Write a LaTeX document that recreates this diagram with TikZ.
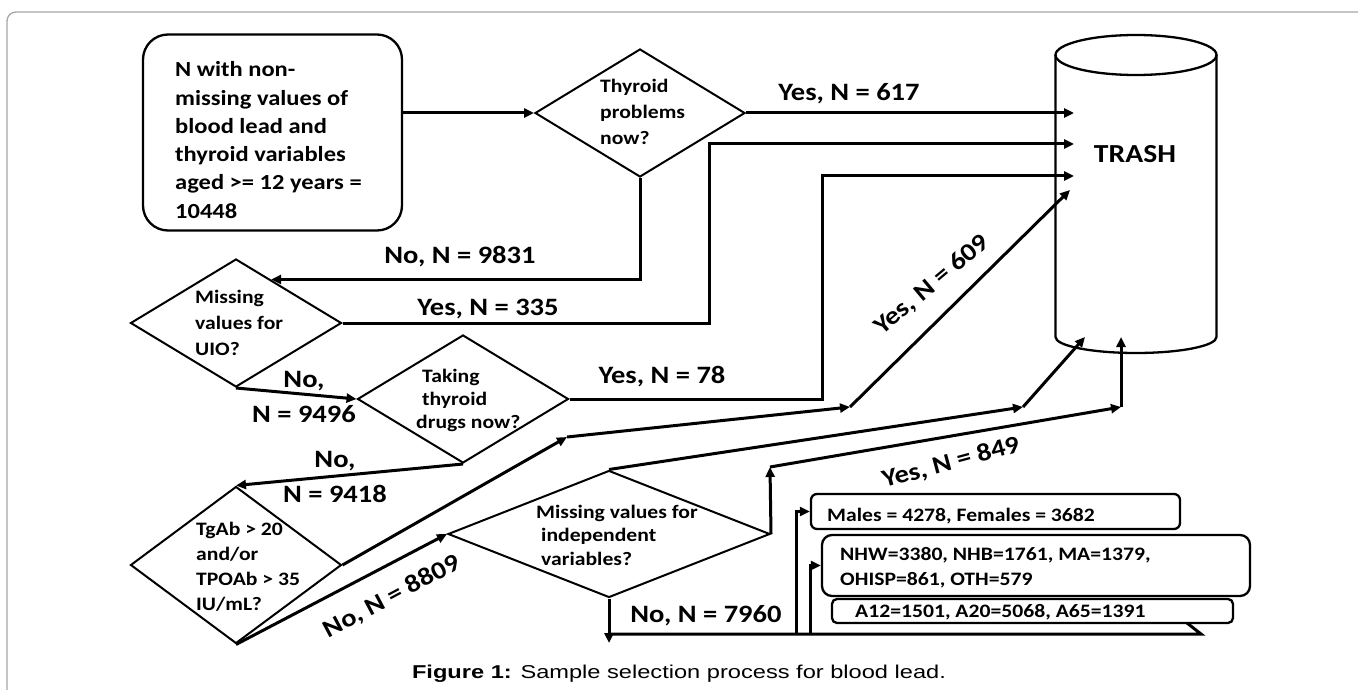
\documentclass[tikz,border=0pt]{standalone}
\usepackage{fontspec}
\usetikzlibrary{arrows.meta,shapes.geometric,calc}
\newfontfamily\calfont[FakeStretch=1.14]{Carlito}
\newfontfamily\arlfont[FakeStretch=1.27]{Liberation Sans}
\newcommand\fsz[2]{\fontsize{#1}{#2}\selectfont}
\begin{document}
\begin{tikzpicture}[x=1pt,y=-1pt,
  conn/.style={line width=3pt,-{Triangle[length=10pt,width=9pt]}},
  plain/.style={line width=3pt},
  dia/.style={draw,diamond,line width=2pt,inner sep=0pt},
  box/.style={draw,rectangle,line width=2.3pt,inner sep=0pt},
  lbl/.style={font=\calfont\bfseries\fsz{25}{35},inner sep=0pt,align=center},
  stxt/.style={font=\calfont\bfseries\fsz{21.5}{28.3},inner sep=0pt,align=left},
  dtxt/.style={font=\calfont\bfseries\fsz{19}{26},inner sep=0pt,align=left},
  btxt/.style={font=\calfont\bfseries\fsz{19}{25},inner sep=0pt,align=left}]
\useasboundingbox (0,0) rectangle (1358,690);
% background and frame
\fill[white] (0,0) rectangle (1358,690);
\begin{scope}
  \clip (0,0) rectangle (1358,690);
  \draw[black!35,line width=1.3pt,rounded corners=9pt] (7,12) rectangle (1400,730);
\end{scope}
% start box (base anchor = last line baseline)
\node[box,rounded corners=25pt,minimum width=259pt,minimum height=196pt] (start) at (272.5,132.5) {};
\node[stxt,anchor=base west] (starttext) at (175,218.2) {N with non-\\missing values of\\blood lead and\\thyroid variables\\aged >= 12 years =\\10448};
% diamonds
\node[dia,minimum width=210pt,minimum height=128pt] (d1) at (640,113) {};
\node[dia,minimum width=211pt,minimum height=128pt] (d2) at (236,323) {};
\node[dia,minimum width=211pt,minimum height=128pt] (d3) at (463,399) {};
\node[dia,minimum width=211pt,minimum height=157pt] (d4) at (236,565) {};
\node[dia,minimum width=322pt,minimum height=127pt] (d5) at (609,534) {};
\node[dtxt,anchor=base west] (d1t) at (600,145) {Thyroid\\problems\\now?};
\node[dtxt,anchor=base west] (d2t) at (195,355) {Missing\\values for\\UIO?};
\node[dtxt,anchor=base west,font=\calfont\bfseries\fsz{19}{23}] (d3t) at (422,428) {Taking\\thyroid\\\hspace*{-6pt}drugs now?};
\node[dtxt,anchor=base west,font=\calfont\bfseries\fsz{19}{25}] (d4t) at (196,610) {TgAb > 20\\and/or\\TPOAb > 35\\IU/mL?};
\node[dtxt,anchor=base west,font=\calfont\bfseries\fsz{19}{23.5}] (d5t) at (536,565) {Missing values for\\\hspace*{5pt}independent\\\hspace*{5pt}variables?};
% trash cylinder
\draw[line width=2.3pt] (1136,55) ellipse [x radius=80.5, y radius=20];
\draw[line width=2.3pt] (1055.5,55) -- (1055.5,337) arc[start angle=180,end angle=0,x radius=80.5,y radius=16] -- (1216.5,55);
\node[font=\calfont\bfseries\fsz{26}{30},inner sep=0pt,anchor=base] (trash) at (1135,163) {TRASH};
% result boxes
\node[box,rounded corners=6pt,minimum width=369pt,minimum height=35pt] (males) at (995.5,511.5) {};
\node[box,rounded corners=10pt,minimum width=428pt,minimum height=61pt] (nhw) at (1036,565.5) {};
\node[box,rounded corners=5pt,minimum width=401pt,minimum height=24pt] (a12) at (1032.5,611) {};
\node[btxt,anchor=base west] (malest) at (827,521) {Males = 4278, Females = 3682};
\node[btxt,anchor=base west] (nhwt) at (840,585) {NHW=3380, NHB=1761, MA=1379,\\OHISP=861, OTH=579};
\node[btxt,anchor=base west] (a12t) at (855,617) {A12=1501, A20=5068, A65=1391};
% coordinates
\coordinate (t1) at (1074,113);
\coordinate (t2) at (1074,144);
\coordinate (b2) at (709,144);
\coordinate (t3) at (1074,176);
\coordinate (b3) at (822,176);
\coordinate (m1) at (567,437);
\coordinate (m2) at (850,407);
\coordinate (t4) at (1070,190);
\coordinate (m3) at (1023,407);
\coordinate (t5) at (1085,337);
\coordinate (m4) at (770,467);
\coordinate (m5) at (1121,407);
\coordinate (t6) at (1121,337);
\coordinate (e1) at (609,643);
\coordinate (h0) at (609,634);
\coordinate (h1) at (1201,634);
\coordinate (h2) at (1187,623);
\coordinate (v1) at (796,634);
\coordinate (v2) at (810,634);
\coordinate (d2ne) at ($(d2.north)!0.33!(d2.east)$);
% connectors
\draw[conn] (start.east |- d1.west) -- (d1.west);
\draw[conn] (d1.east) -- (t1);
\draw[conn] (d1.south) |- (d2ne);
\draw[conn] (d2.east) -| (b2) -- (t2);
\draw[conn] (d2.south) -- (d3.west);
\draw[conn] (d3.east) -| (b3) -- (t3);
\draw[conn] (d3.south) -- (d4.north);
\draw[conn] (d4.east) -- (m1);
\draw[conn] (m1) -- (m2);
\draw[conn] (m2) -- (t4);
\draw[conn] (d4.south) -- (d5.west);
\draw[conn] (d5.north) -- (m3);
\draw[conn] (m3) -- (t5);
\draw[conn] (d5.east) -- (m4);
\draw[conn] (m4) -- (m5);
\draw[conn] (m5) -- (t6);
\draw[conn] (d5.south) -- (e1);
\draw[plain] (h0) -- (h1) -- (h2);
\draw[conn] (v1) |- (males.west);
\draw[conn] (v2) |- (nhw.west);
% labels
\node[lbl,anchor=base] (l617) at (849,101) {Yes, N = 617};
\node[lbl,anchor=base] (l9831) at (460,263) {No, N = 9831};
\node[lbl,anchor=base] (l335) at (488,315) {Yes, N = 335};
\node[lbl,anchor=base] (l9496) at (304,422) {No,\\N = 9496};
\node[lbl,anchor=base] (l9418) at (335,502) {No,\\N = 9418};
\node[lbl,anchor=base] (l78) at (662,383) {Yes, N = 78};
\node[lbl,anchor=base] (l7960) at (706,622) {No, N = 7960};
\node[lbl,rotate=28] (l8809) at (392,597) {No, N = 8809};
\node[lbl,rotate=40] (l609) at (932,285) {Yes, N = 609};
\node[lbl,rotate=15] (l849) at (951,463) {Yes, N = 849};
% caption
\node[font=\arlfont\fsz{18.6}{22},inner sep=0pt,anchor=base] (cap) at (679,678) {\textbf{Figure 1:} Sample selection process for blood lead.};
\end{tikzpicture}
\end{document}
